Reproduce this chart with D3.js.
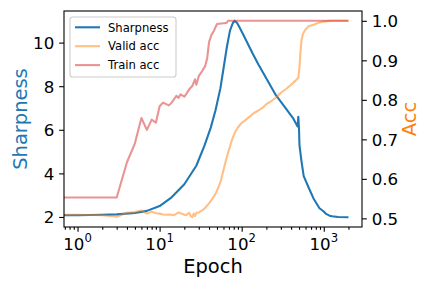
<!DOCTYPE html>
<html>
<head>
<meta charset="utf-8">
<title>Sharpness and accuracy</title>
<style>
body { margin: 0; background: #fff; }
text { font-family: "DejaVu Sans", sans-serif; }
</style>
</head>
<body>
<script src="https://d3js.org/d3.v7.min.js"></script>
<script>
// values
var sharpEpochs = [0, 1, 2, 3, 5, 7, 10, 14, 20, 28, 35, 42, 48, 55, 60, 66, 72, 78, 82, 88, 94, 110, 136, 160, 200, 260, 350, 420, 480, 490, 500, 506, 535, 570, 656, 750, 887, 1000, 1069, 1175, 1265, 1500, 2000];
var sharpValues = [2.08, 2.08, 2.1, 2.12, 2.18, 2.28, 2.5, 2.9, 3.5, 4.35, 5.25, 6.1, 6.9, 7.9, 8.8, 9.8, 10.55, 10.9, 11.0, 10.9, 10.7, 10.2, 9.5, 9.0, 8.35, 7.6, 6.95, 6.55, 6.15, 6.6, 6.0, 5.3, 4.56, 3.87, 3.34, 2.85, 2.4, 2.25, 2.14, 2.06, 2.03, 2.0, 1.99];

var validEpochs = [0, 1, 2, 3, 4, 5, 6, 7, 8, 9, 10, 11, 12, 13, 15, 17, 19, 21, 23, 24, 25, 26, 27, 28, 30, 33, 36, 40, 44, 48, 52, 56, 60, 64, 68, 72, 76, 80, 85, 90, 98, 110, 124, 140, 160, 180, 200, 230, 262, 300, 350, 400, 450, 490, 505, 520, 535, 560, 600, 650, 750, 870, 1000, 1200, 2000];
var validValues = [0.509, 0.509, 0.508, 0.504, 0.514, 0.516, 0.52, 0.512, 0.517, 0.513, 0.512, 0.51, 0.509, 0.51, 0.508, 0.515, 0.511, 0.508, 0.514, 0.505, 0.503, 0.512, 0.506, 0.514, 0.515, 0.52, 0.527, 0.538, 0.55, 0.562, 0.578, 0.597, 0.622, 0.645, 0.665, 0.682, 0.698, 0.71, 0.722, 0.73, 0.74, 0.748, 0.757, 0.766, 0.773, 0.78, 0.789, 0.797, 0.806, 0.818, 0.828, 0.838, 0.848, 0.856, 0.88, 0.92, 0.95, 0.968, 0.978, 0.986, 0.99, 0.995, 0.998, 1.0, 1.0];

var trainEpochs = [0, 1, 2, 3, 4, 5, 6, 7, 8, 9, 10, 11, 13, 14, 16, 17, 18, 20, 21, 23, 25, 27, 28, 30, 33, 36, 38, 40, 43, 46, 50, 60, 66, 68, 2000];
var trainValues = [0.553, 0.553, 0.553, 0.553, 0.642, 0.69, 0.754, 0.724, 0.75, 0.742, 0.784, 0.793, 0.786, 0.793, 0.81, 0.805, 0.814, 0.808, 0.814, 0.827, 0.835, 0.852, 0.838, 0.86, 0.873, 0.886, 0.905, 0.946, 0.965, 0.975, 0.992, 0.994, 0.995, 1.0, 1.0];

var xTicks = [1, 10, 100, 1000];
var xTickPowers = ['0', '1', '2', '3'];
var leftTicks = [2, 4, 6, 8, 10];
var rightTicks = [0.5, 0.6, 0.7, 0.8, 0.9, 1.0];

var blue = '#1f77b4', orange = '#ff7f0e', red = '#d62728';

var W = 432, H = 288;
var x0 = 64, x1 = 362, y0 = 11, y1 = 227;

var svg = d3.select('body').append('svg')
	.attr('width', W)
	.attr('height', H);

// log x with matplotlib style 5% margins
var lo = Math.log10(1), hi = Math.log10(d3.max(sharpEpochs));
var m = (hi - lo) * 0.05;
var x = d3.scaleLog().domain([Math.pow(10, lo - m), Math.pow(10, hi + m)]).range([x0, x1]);

function padded(vals) {
	var e = d3.extent(vals);
	var p = (e[1] - e[0]) * 0.05;
	return [e[0] - p, e[1] + p];
}
var yL = d3.scaleLinear().domain(padded(sharpValues)).range([y1, y0]);
var yR = d3.scaleLinear().domain(padded(validValues.concat(trainValues))).range([y1, y0]);

svg.append('clipPath').attr('id', 'plot')
	.append('rect').attr('x', x0).attr('y', y0).attr('width', x1 - x0).attr('height', y1 - y0);

// epoch 0 can't go on a log axis, push it off the left edge
function xe(e) { return x(Math.max(e, 1e-3)); }

function series(epochs, values, ys, color, op) {
	var pts = epochs.map(function(e, i) { return [e, values[i]]; });
	var line = d3.line()
		.x(function(d) { return xe(d[0]); })
		.y(function(d) { return ys(d[1]); });
	svg.append('path')
		.datum(pts)
		.attr('clip-path', 'url(#plot)')
		.attr('d', line)
		.attr('fill', 'none')
		.attr('stroke', color)
		.attr('stroke-opacity', op)
		.attr('stroke-width', 2.08)
		.attr('stroke-linejoin', 'round');
}

series(sharpEpochs, sharpValues, yL, blue, 1);
series(validEpochs, validValues, yR, orange, 0.5);
series(trainEpochs, trainValues, yR, red, 0.5);

// axes
var tick = 4.86, minorTick = 2.78, fs = 16.67;

var minors = [];
[0.1, 1, 10, 100, 1000].forEach(function(b) {
	for (var k = 2; k <= 9; k++) {
		var v = b * k;
		if (v >= x.domain()[0] && v <= x.domain()[1]) minors.push(v);
	}
});

var gx = svg.append('g').attr('transform', 'translate(0,' + y1 + ')');
gx.call(d3.axisBottom(x).tickValues(xTicks).tickSize(tick).tickFormat(''));
svg.append('g').attr('transform', 'translate(0,' + y1 + ')')
	.call(d3.axisBottom(x).tickValues(minors).tickSize(minorTick).tickFormat(''));

var xl = svg.append('g').selectAll('text')
	.data(xTicks)
	.enter().append('text')
	.attr('x', function(d) { return x(d); })
	.attr('y', 249.5)
	.attr('text-anchor', 'middle')
	.attr('font-size', fs);
xl.append('tspan').text('10');
xl.append('tspan')
	.attr('dy', -7.3)
	.attr('font-size', fs * 0.7)
	.text(function(d, i) { return xTickPowers[i]; });

svg.append('g').attr('transform', 'translate(' + x0 + ',0)')
	.call(d3.axisLeft(yL).tickValues(leftTicks).tickSize(tick).tickPadding(tick).tickFormat(d3.format('d')));
svg.append('g').attr('transform', 'translate(' + x1 + ',0)')
	.call(d3.axisRight(yR).tickValues(rightTicks).tickSize(tick).tickPadding(tick).tickFormat(d3.format('.1f')));

svg.selectAll('.tick line').attr('stroke', '#000').attr('stroke-width', 1.1);
svg.selectAll('.tick text').attr('font-size', fs).attr('font-family', 'DejaVu Sans').attr('fill', '#000').attr('dy', '0.36em');
svg.selectAll('.domain').remove();

svg.append('rect')
	.attr('x', x0).attr('y', y0)
	.attr('width', x1 - x0).attr('height', y1 - y0)
	.attr('fill', 'none')
	.attr('stroke', '#000')
	.attr('stroke-width', 1.1);

// axis labels
var lfs = 19.44;
svg.append('text')
	.attr('x', (x0 + x1) / 2).attr('y', 272.5)
	.attr('text-anchor', 'middle')
	.attr('font-size', lfs)
	.text('Epoch');
svg.append('text')
	.attr('transform', 'translate(26.5,' + (y0 + y1) / 2 + ') rotate(-90)')
	.attr('text-anchor', 'middle')
	.attr('font-size', lfs)
	.attr('fill', blue)
	.text('Sharpness');
svg.append('text')
	.attr('transform', 'translate(415.5,' + (y0 + y1) / 2 + ') rotate(-90)')
	.attr('text-anchor', 'middle')
	.attr('font-size', lfs)
	.attr('fill', orange)
	.text('Acc');

// legend
var legNames = ['Sharpness', 'Valid acc', 'Train acc'];
var legColors = [blue, orange, red];
var legOps = [1, 0.5, 0.5];
var leg = svg.append('g');
leg.append('rect')
	.attr('x', 70).attr('y', 17)
	.attr('width', 106).attr('height', 60)
	.attr('rx', 2.8)
	.attr('fill', '#fff').attr('fill-opacity', 0.8)
	.attr('stroke', '#cccccc').attr('stroke-width', 1.1);
legNames.forEach(function(n, i) {
	var ly = 27.3 + i * 18.9;
	leg.append('line')
		.attr('x1', 75).attr('x2', 100)
		.attr('y1', ly).attr('y2', ly)
		.attr('stroke', legColors[i])
		.attr('stroke-opacity', legOps[i])
		.attr('stroke-width', 2.08);
	leg.append('text')
		.attr('x', 108).attr('y', ly + 4.2)
		.attr('font-size', 11.6)
		.text(n);
});
</script>
</body>
</html>
